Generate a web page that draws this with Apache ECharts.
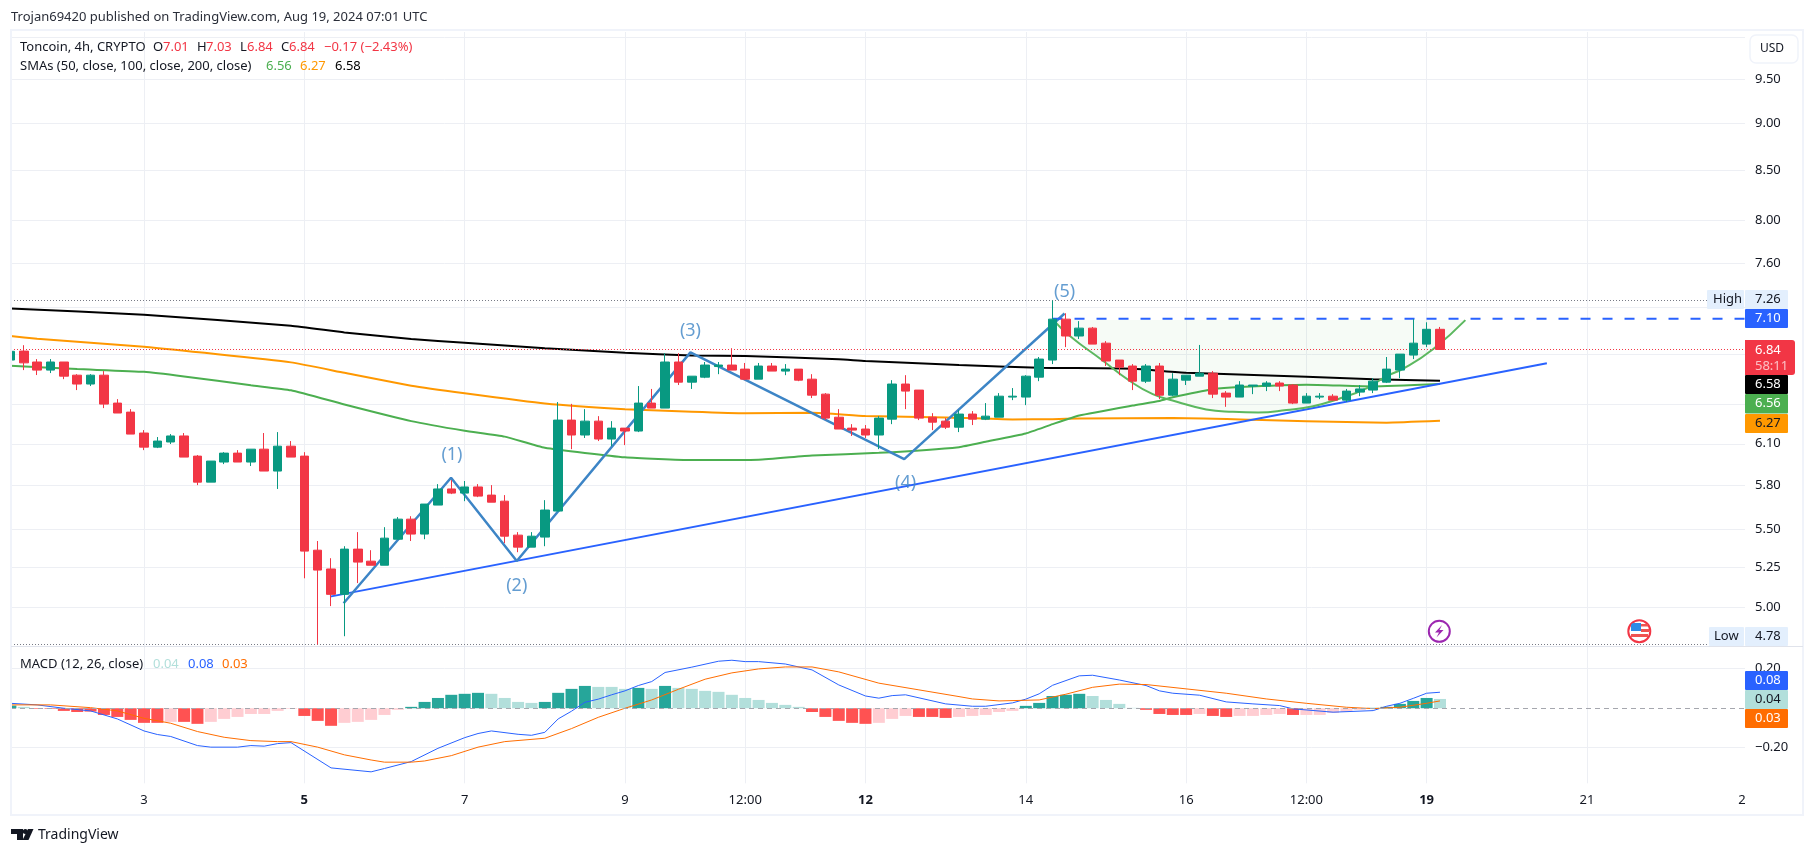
<!DOCTYPE html>
<html><head><meta charset="utf-8">
<style>html,body{margin:0;padding:0;background:#fff}#c{width:1814px;height:855px}</style>
<script src="https://cdn.jsdelivr.net/npm/echarts@6/dist/echarts.min.js"></script>
</head><body><div id="c"></div>
<script>
// ---------- candles (4h bars, index = bar number) ----------
const candleOpen = [6.753,6.827,6.737,6.671,6.737,6.63,6.559,6.63,6.409,6.339,
6.18,6.075,6.113,6.158,6.009,5.822,5.966,6.031,5.966,6.06,
5.901,6.082,6.009,5.36,5.239,5.08,5.367,5.289,5.263,5.432,
5.566,5.466,5.662,5.774,5.745,5.788,5.731,5.689,5.459,5.38,
5.446,5.621,6.278,6.165,6.27,6.135,6.217,6.195,6.409,6.37,
6.737,6.574,6.614,6.70,6.712,6.679,6.598,6.704,6.663,6.679,
6.598,6.479,6.3,6.217,6.21,6.165,6.285,6.559,6.511,6.3,
6.27,6.224,6.324,6.285,6.3,6.456,6.456,6.614,6.753,7.097,
6.953,7.02,6.893,6.753,6.704,6.582,6.704,6.471,6.59,6.622,
6.646,6.487,6.456,6.543,6.543,6.567,6.551,6.409,6.456,6.463,
6.432,6.495,6.511,6.574,6.671,6.794,6.885,7.01];
const candleClose = [6.825,6.73,6.671,6.737,6.622,6.559,6.63,6.401,6.332,6.172,
6.075,6.12,6.158,6.002,5.822,5.973,6.031,5.966,6.06,5.901,
6.082,6.002,5.354,5.232,5.08,5.367,5.283,5.263,5.439,5.566,
5.466,5.669,5.774,5.745,5.788,5.724,5.682,5.452,5.38,5.452,
5.628,6.278,6.165,6.27,6.135,6.217,6.195,6.409,6.37,6.737,
6.574,6.622,6.712,6.712,6.671,6.598,6.704,6.663,6.679,6.59,
6.471,6.293,6.21,6.202,6.165,6.293,6.559,6.503,6.293,6.262,
6.224,6.324,6.285,6.308,6.463,6.463,6.622,6.761,7.097,6.953,
7.02,6.885,6.745,6.695,6.582,6.704,6.471,6.598,6.63,6.646,
6.479,6.456,6.551,6.551,6.567,6.543,6.409,6.463,6.463,6.432,
6.503,6.52,6.582,6.679,6.802,6.893,7.01,6.84];
const candleHigh = [6.825,6.876,6.761,6.761,6.737,6.638,6.638,6.663,6.44,6.362,
6.202,6.15,6.172,6.18,6.017,5.973,6.038,6.053,6.06,6.18,
6.187,6.12,6.038,5.42,5.308,5.386,5.479,5.36,5.512,5.58,
5.586,5.669,5.808,5.836,5.83,5.808,5.801,5.731,5.479,5.479,
5.696,6.417,6.403,6.362,6.308,6.27,6.217,6.543,6.52,6.81,
6.81,6.622,6.737,6.737,6.851,6.729,6.729,6.729,6.72,6.679,
6.638,6.487,6.362,6.247,6.24,6.308,6.59,6.63,6.511,6.331,
6.293,6.355,6.347,6.409,6.487,6.527,6.63,6.778,7.26,7.148,
7.08,7.03,6.91,6.753,6.72,6.72,6.729,6.646,6.63,6.878,
6.663,6.503,6.582,6.551,6.582,6.582,6.559,6.487,6.487,6.479,
6.52,6.551,6.606,6.778,6.802,7.097,7.07,7.03];
const candleLow = [6.753,6.671,6.631,6.647,6.598,6.511,6.543,6.37,6.332,6.172,
6.053,6.068,6.098,6.002,5.801,5.822,5.951,5.966,5.937,5.901,
5.774,6.002,5.18,4.78,5.008,4.828,5.15,5.263,5.263,5.432,
5.42,5.432,5.662,5.738,5.689,5.717,5.682,5.406,5.347,5.38,
5.386,5.621,6.06,6.143,6.12,6.082,6.09,6.187,6.37,6.37,
6.551,6.52,6.606,6.638,6.671,6.59,6.598,6.663,6.63,6.582,
6.448,6.278,6.21,6.158,6.143,6.06,6.247,6.362,6.278,6.202,
6.21,6.187,6.24,6.278,6.3,6.432,6.393,6.582,6.72,6.86,
6.928,6.885,6.704,6.63,6.511,6.567,6.44,6.463,6.551,6.622,
6.448,6.38,6.456,6.479,6.503,6.503,6.401,6.409,6.44,6.432,
6.417,6.463,6.487,6.567,6.606,6.761,6.86,6.84];

// ---------- moving averages [bar, price] ----------
const sma200 = [[0,7.19],[10,7.135],[21,7.04],[25,6.983],[30,6.928],[34,6.897],[40,6.85],[46,6.813],[51,6.79],[55,6.786],[62,6.759],[64,6.745],[71,6.712],[77,6.69],[84,6.682],[88,6.65],[97,6.617],[102,6.598],[107,6.585]];
const sma100 = [[0,6.953],[2,6.931],[10,6.862],[21,6.734],[25,6.649],[30,6.546],[34,6.486],[40,6.406],[46,6.362],[51,6.342],[55,6.33],[60,6.334],[64,6.31],[70,6.298],[75,6.283],[78,6.285],[80,6.29],[87,6.293],[93,6.28],[97,6.27],[103,6.258],[107,6.272]];
const sma50 = [[0,6.706],[5,6.679],[10,6.657],[13,6.62],[18,6.549],[21,6.509],[25,6.398],[30,6.27],[34,6.197],[37,6.153],[40,6.07],[46,6.0],[51,5.98],[56,5.983],[60,6.014],[65,6.033],[71,6.075],[73,6.115],[76,6.177],[78,6.247],[80,6.313],[84,6.39],[86,6.425],[87,6.454],[90,6.517],[92,6.535],[97,6.554],[102,6.54],[107,6.559]];

// ---------- drawings ----------
const waveLine = [[24.94,5.025],[32.98,5.853],[37.9,5.29],[50.9,6.816],[66.9,5.987],[78.9,7.146]];
const waveLabels = [['(1)',33.05,6.02],['(2)',37.9,5.132],['(3)',50.9,7.0],['(4)',67,5.818],['(5)',78.9,7.34]];
const trendLine = [[23.92,5.066],[115,6.726]];
const cupCurve = [[78.07,7.089],[79.3,6.953],[81.7,6.753],[83.7,6.59],[85.5,6.479],[87.3,6.42],[89.5,6.36],[91.5,6.342],[93.4,6.337],[95.5,6.355],[97.5,6.385],[99.5,6.445],[101.5,6.525],[103,6.622],[104.3,6.685],[106.5,6.845],[108.9,7.089]];
const cupRim = 7.089;
const resistanceStart = 78;
const resistancePrice = 7.10;
const highPrice = 7.26, lowPrice = 4.78, lastPrice = 6.84;

// ---------- MACD ----------
const macdHist = [.0135,.007,-.003,-.003,-.0135,-.019,-.017,-.034,-.044,-.059,
-.074,-.074,-.069,-.069,-.079,-.069,-.054,-.044,-.029,-.029,
-.0135,-.003,-.039,-.064,-.089,-.074,-.069,-.059,-.034,-.008,
.007,.032,.052,.068,.073,.078,.073,.052,.032,.027,
.032,.078,.098,.113,.108,.108,.098,.103,.098,.113,
.103,.098,.088,.083,.068,.052,.042,.027,.017,.007,
-.019,-.044,-.064,-.074,-.079,-.074,-.054,-.039,-.044,-.044,
-.049,-.044,-.039,-.034,-.019,-.0135,.012,.027,.062,.068,
.073,.062,.042,.022,.002,-.008,-.029,-.034,-.034,-.029,
-.039,-.044,-.039,-.039,-.034,-.029,-.034,-.034,-.034,-.024,
-.019,-.008,.002,.007,.022,.037,.052,.047];
const macdTone = ['DLRRRRRRRR','RRPRRPPPPP','PPRRRPPPPP','DDDDDDLLLL','DDDDLLLDLD','LLLLLLLLLL','RRRRRPPPRR','RPPPPPDDDD','DLLLLRRRRP','RRPPPPRPPP','PPDDDDDL'].join('');
const macdLine = [[0,.025],[2,.017],[4,0],[6,-.0135],[8,-.054],[10,-.115],[11,-.133],[12,-.143],[14,-.189],[15,-.197],[17,-.197],[18,-.189],[19,-.192],[20,-.179],[21,-.174],[24,-.302],[27,-.322],[28,-.305],[30,-.27],[32,-.203],[34,-.149],[35,-.128],[36,-.115],[38,-.132],[39,-.137],[40,-.122],[41,-.054],[42,-.015],[43,.03],[44,.046],[45,.068],[46,.088],[47,.115],[48,.135],[49,.181],[51,.208],[53,.238],[54,.243],[55,.236],[56,.236],[58,.224],[60,.194],[62,.118],[64,.062],[65,.051],[66,.064],[67,.068],[70,.022],[72,.01],[73,.01],[75,.027],[76,.046],[77,.073],[78,.116],[80,.164],[81,.167],[83,.143],[85,.115],[86,.088],[87,.076],[89,.066],[91,.032],[93,.022],[95,.0135],[96,-.003],[99,-.02],[102,-.012],[103,.01],[104,.025],[105,.05],[106,.076],[107,.081]];
const macdSignal = [[0,.017],[3,.017],[6,.003],[8,-.0135],[10,-.051],[12,-.076],[14,-.118],[16,-.147],[18,-.164],[20,-.169],[21,-.169],[23,-.197],[25,-.236],[27,-.262],[28,-.273],[30,-.273],[31,-.267],[33,-.24],[35,-.197],[37,-.169],[40,-.152],[42,-.103],[44,-.046],[46,0],[48,.042],[50,.096],[52,.147],[54,.179],[56,.199],[58,.209],[60,.209],[62,.184],[65,.127],[68,.093],[71,.059],[72,.047],[74,.037],[77,.042],[79,.071],[81,.106],[83,.122],[85,.12],[88,.098],[91,.076],[94,.047],[97,.025],[100,.005],[102,-.002],[104,.005],[106,.025],[107,.037]];

// ---------- axes ----------
const priceGrid = [10,9.5,9,8.5,8,7.6,7.2,6.8,6.4,6.1,5.8,5.5,5.25,5];
const priceLabels = [9.5,9,8.5,8,7.6,6.1,5.8,5.5,5.25,5];
const macdGrid = [.2,-.2];
const timeGrid = [10,22,34,46,55,64,76,88,97,106,118];
const timeLabelAt = [10,22,34,46,55,64,76,88,97,106,118,129.6];
const timeLabels = ['3','5','7','9','12:00','12','14','16','12:00','19','21','2'];
const boldLabels = ['5','12','19'];

// ---------- texts ----------
const FONT = '"Noto Sans","Open Sans",sans-serif';
const publishLine = 'Trojan69420 published on TradingView.com, Aug 19, 2024 07:01 UTC';
const legendRows = [
 [20,47,'Toncoin, 4h, CRYPTO','#131722'],[153,47,'O','#131722'],[163,47,'7.01','#f23645'],[197,47,'H','#131722'],[206,47,'7.03','#f23645'],[240,47,'L','#131722'],[247,47,'6.84','#f23645'],[281,47,'C','#131722'],[289,47,'6.84','#f23645'],[324,47,'−0.17 (−2.43%)','#f23645'],
 [20,66,'SMAs (50, close, 100, close, 200, close)','#131722'],[266,66,'6.56','#4caf50'],[300,66,'6.27','#ff9800'],[335,66,'6.58','#000000'],
 [20,664,'MACD (12, 26, close)','#131722'],[153,664,'0.04','#b2dfdb'],[188,664,'0.08','#2962ff'],[222,664,'0.03','#ff6d00']];
const badges = [
 [1707,290,37,19,'#e3effd','High','#131722',1713],
 [1745,290,43,19,'#e3effd','7.26','#131722',1755],
 [1745,309,43,19,'#2962ff','7.10','#ffffff',1755],
 [1745,375,43,19,'#000000','6.58','#ffffff',1755],
 [1745,394,43,19.5,'#4caf50','6.56','#ffffff',1755],
 [1745,414,43,19,'#ff9800','6.27','#131722',1755],
 [1709,627,35,19,'#e3effd','Low','#131722',1714],
 [1745,627,43,19,'#e3effd','4.78','#131722',1755],
 [1745,671,43,19,'#2962ff','0.08','#ffffff',1755],
 [1745,690,43,19,'#b2dfdb','0.04','#131722',1755],
 [1745,709,43,19,'#ff6d00','0.03','#ffffff',1755]];

const xMin = 0.045, xMax = 129.83;
const GRIDC = '#edeff4';
const lineSeries = (name,data,color,width,extra)=>Object.assign({type:'line',name,data,showSymbol:false,symbol:'none',silent:true,animation:false,lineStyle:{color,width},z:2},extra||{});
const rule = (v,color,type,w)=>({yAxis:v,lineStyle:{color,type,width:w||1}});
const toneColor = {D:'#26a69a',L:'#b2dfdb',R:'#ff5252',P:'#ffcdd2'};

const txt = (x,y,text,fill,size,weight)=>({type:'text',x,y,silent:true,z:50,style:{text,fill,font:(weight||'normal')+' '+(size||13)+'px '+FONT,textVerticalAlign:'middle',verticalAlign:'middle'}});
const graphics = [
 {type:'rect',shape:{x:0,y:30,width:10,height:786},silent:true,z:39,style:{fill:'#fff'}},
 {type:'rect',shape:{x:11,y:30,width:1792,height:785},silent:true,z:40,style:{fill:'none',stroke:'#f0f3fa',lineWidth:2}},
 {type:'line',shape:{x1:11,y1:646.5,x2:1803,y2:646.5},silent:true,z:40,style:{stroke:'#e0e3eb',lineWidth:1}},
 txt(11,17,publishLine,'#2a2e39',13),
 {type:'rect',shape:{x:1750,y:35,width:48,height:28,r:6},silent:true,z:45,style:{fill:'#fff',stroke:'#f0f3fa',lineWidth:1.5}},
 txt(1760,49,'USD','#131722',12),
 {type:'rect',shape:{x:1745,y:340,width:50,height:35,r:[0,3,3,0]},silent:true,z:45,style:{fill:'#f23645'}},
 txt(1755,350,'6.84','#ffffff',13), txt(1755,366,'58:11','#fcc0c5',13),
 // TradingView logo
 {type:'polygon',shape:{points:[[11,829],[23,829],[23,840],[17,840],[17,834],[11,834]]},silent:true,z:45,style:{fill:'#131722'}},
 {type:'circle',shape:{cx:25.3,cy:831.5,r:2.5},silent:true,z:45,style:{fill:'#131722'}},
 {type:'polygon',shape:{points:[[28,829],[33.5,829],[28.5,840],[22.5,840]]},silent:true,z:45,style:{fill:'#131722'}},
 txt(38,835.5,'TradingView','#131722',14),
 // lightning event marker
 {type:'circle',shape:{cx:1439.3,cy:631.3,r:10.5},silent:true,z:45,style:{fill:'#fff',stroke:'#9c27b0',lineWidth:2}},
 {type:'polygon',shape:{points:[[1442,625],[1435,632.5],[1439,632.5],[1436.5,637.5],[1443.5,630],[1439.5,630]]},silent:true,z:46,style:{fill:'#9c27b0'}},
 // US flag event marker
 {type:'circle',shape:{cx:1639.3,cy:631.3,r:11},silent:true,z:45,style:{fill:'#fff',stroke:'#f23645',lineWidth:2}},
 {type:'rect',shape:{x:1631,y:623,width:10,height:8,r:[3,0,0,0]},silent:true,z:46,style:{fill:'#2e8be6'}},
 {type:'rect',shape:{x:1641,y:624,width:7,height:2.5},silent:true,z:46,style:{fill:'#ef5350'}},
 {type:'rect',shape:{x:1641,y:629,width:8,height:3},silent:true,z:46,style:{fill:'#ef5350'}},
 {type:'rect',shape:{x:1631,y:634,width:17,height:3},silent:true,z:46,style:{fill:'#ef5350'}}
];
legendRows.forEach(r=>graphics.push(txt(r[0],r[1],r[2],r[3],13)));
badges.forEach(b=>{
 graphics.push({type:'rect',shape:{x:b[0],y:b[1],width:b[2],height:b[3],r:1},silent:true,z:45,style:{fill:b[4]}});
 graphics.push(txt(b[7],b[1]+b[3]/2,b[5],b[6],13));
});

const chart = echarts.init(document.getElementById('c'),null,{width:1814,height:855});
chart.setOption({
 animation:false,
 backgroundColor:'#ffffff',
 grid:[
  {left:11,top:32,width:1734,height:614,containLabel:false},
  {left:11,top:647,width:1734,height:136.3,containLabel:false}],
 xAxis:[
  {type:'value',gridIndex:0,min:xMin,max:xMax,axisLine:{show:false},axisTick:{show:false,customValues:timeGrid},axisLabel:{show:false},splitLine:{show:true,lineStyle:{color:GRIDC,width:1}}},
  {type:'value',gridIndex:1,min:xMin,max:xMax,axisLine:{show:false},axisTick:{show:false,customValues:timeGrid},
   splitLine:{show:true,lineStyle:{color:GRIDC,width:1}},
   axisLabel:{show:true,customValues:timeLabelAt,margin:10,hideOverlap:false,showMinLabel:true,showMaxLabel:true,color:'#131722',fontFamily:FONT,fontSize:13,
    formatter:v=>{const i=timeLabelAt.indexOf(v);const s=timeLabels[i];return boldLabels.includes(s)?'{b|'+s+'}':s;},
    rich:{b:{fontWeight:'bold',fontFamily:FONT,fontSize:13,color:'#131722'}}}}
 ],
 yAxis:[
  {type:'log',logBase:10,gridIndex:0,position:'right',min:4.771,max:10.06,axisLine:{show:false},axisTick:{show:false,customValues:priceGrid},minorTick:{show:false},minorSplitLine:{show:false},
   splitLine:{show:true,lineStyle:{color:GRIDC,width:1}},
   axisLabel:{show:true,inside:false,customValues:priceLabels,margin:10,align:'left',color:'#131722',fontFamily:FONT,fontSize:13,formatter:v=>(+v).toFixed(2)}},
  {type:'value',gridIndex:1,position:'right',min:-.38,max:.31,axisLine:{show:false},axisTick:{show:false,customValues:macdGrid},
   splitLine:{show:true,lineStyle:{color:GRIDC,width:1}},
   axisLabel:{show:true,customValues:macdGrid,margin:10,align:'left',color:'#131722',fontFamily:FONT,fontSize:13,formatter:v=>(v<0?'−':'')+Math.abs(v).toFixed(2)}}
 ],
 graphic:{elements:graphics},
 series:[
  lineSeries('SMA 200',sma200,'#000000',2,{smooth:0.15}),
  lineSeries('SMA 100',sma100,'#ff9800',2,{smooth:0.15}),
  lineSeries('SMA 50',sma50,'#4caf50',2,{smooth:0.15}),
  lineSeries('Trend line',trendLine,'#2962ff',2),
  lineSeries('Cup',cupCurve,'#5cb85f',2,{smooth:0.5,areaStyle:{origin:cupRim,color:'rgba(76,175,80,0.07)'}}),
  lineSeries('Waves',waveLine,'#3d85c6',2.5),
  lineSeries('Resistance',[[resistanceStart,resistancePrice],[xMax,resistancePrice]],'#2962ff',2,{lineStyle:{color:'#2962ff',width:2,type:[10,12]}}),
  {type:'scatter',name:'Wave labels',silent:true,symbolSize:1,itemStyle:{color:'transparent'},z:6,
   data:waveLabels.map(w=>({value:[w[1],w[2]],name:w[0]})),
   label:{show:true,position:'inside',formatter:p=>p.name,color:'#3d85c6',fontFamily:FONT,fontSize:18}},
  {type:'candlestick',name:'Toncoin',z:5,barWidth:9,silent:true,clip:true,
   data:candleOpen.map((o,i)=>[i,o,candleClose[i],candleLow[i],candleHigh[i]]),
   itemStyle:{color:'#089981',color0:'#f23645',borderColor:'#089981',borderColor0:'#f23645',borderWidth:1},
   markLine:{silent:true,symbol:'none',label:{show:false},animation:false,data:[rule(highPrice,'#787b86',[1,2]),rule(lowPrice,'#787b86',[1,2]),rule(lastPrice,'#f23645',[1,2])]}},
  {type:'bar',name:'Histogram',xAxisIndex:1,yAxisIndex:1,barWidth:12,silent:true,clip:true,
   data:macdHist.map((v,i)=>({value:[i,v],itemStyle:{color:toneColor[macdTone[i]]}})),
   markLine:{silent:true,symbol:'none',label:{show:false},animation:false,data:[rule(0,'#a5a7ae',[5,4])]}},
  lineSeries('MACD',macdLine,'#2962ff',1,{xAxisIndex:1,yAxisIndex:1,z:4}),
  lineSeries('Signal',macdSignal,'#ff6d00',1,{xAxisIndex:1,yAxisIndex:1,z:4})
 ]
});
</script></body></html>
